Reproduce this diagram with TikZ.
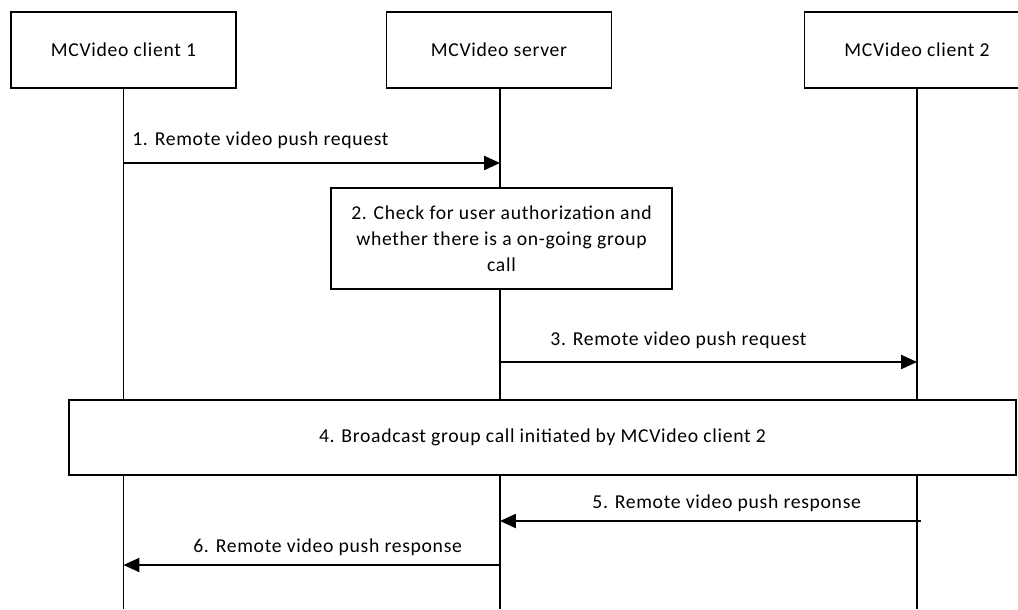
\documentclass[tikz,border=0pt]{standalone}
\usepackage{fontspec}
\setmainfont{Carlito}[LetterSpace=3.5]
\usetikzlibrary{arrows.meta, positioning, calc}

\begin{document}
\begin{tikzpicture}[x=0.02cm, y=-0.02cm,
    every node/.style={font=\fontsize{11.2}{14.7}\selectfont},
    ent/.style={draw, fill=white, line width=1pt, minimum width=4.5cm, minimum height=1.52cm, inner sep=0pt},
    act/.style={draw, fill=white, line width=1pt, align=center, inner sep=0pt},
    life/.style={line width=1pt},
    msg/.style={line width=1pt, -{Triangle[length=9pt, width=8pt]}},
    lbl/.style={anchor=west, inner sep=0pt}]
    \useasboundingbox (0,0) rectangle (1018,609);
    \clip (0,0) rectangle (1018,609);
    % entities
    \node[ent] (cl1) at (123.5,50) {MCVideo client 1};
    \node[ent] (srv) at (499,50) {MCVideo server};
    \node[ent] (cl2) at (917,50) {MCVideo client 2};
    \coordinate (cl1e) at (123.5,609);
    \coordinate (srve) at (500,609);
    \coordinate (cl2e) at (917,609);
    \draw[life] (cl1) -- (cl1e);
    \draw[life] (srv.south -| srve) -- (srve);
    \draw[life] (cl2) -- (cl2e);
    % actions
    \node[act, minimum width=6.82cm, minimum height=2.02cm] (chk) at (501.5,238.5)
        {2. Check for user authorization and\\whether there is a on-going group\\call};
    \node[act, minimum width=18.94cm, minimum height=1.5cm] (bc) at (542.5,437.5)
        {4. Broadcast group call initiated by MCVideo client 2};
    % messages
    \coordinate (m1a) at (123.5,163);
    \coordinate (m1b) at (500,163);
    \coordinate (m3a) at (500,362);
    \coordinate (m3b) at (917,362);
    \coordinate (m5a) at (921,521);
    \coordinate (m5b) at (500,521);
    \coordinate (m6a) at (500,565);
    \coordinate (m6b) at (123.5,565);
    \draw[msg] (m1a) -- (m1b);
    \draw[msg] (m3a) -- (m3b);
    \draw[msg] (m5a) -- (m5b);
    \draw[msg] (m6a) -- (m6b);
    \node[lbl] (l1) at (132,140) {1. Remote video push request};
    \node[lbl] (l3) at (550,340) {3. Remote video push request};
    \node[lbl] (l5) at (592,503) {5. Remote video push response};
    \node[lbl] (l6) at (193,547) {6. Remote video push response};
\end{tikzpicture}
\end{document}
